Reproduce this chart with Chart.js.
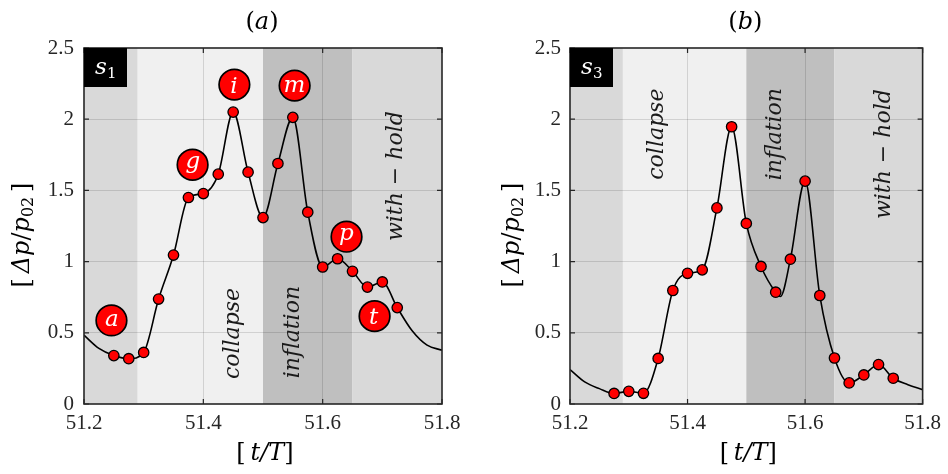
<!DOCTYPE html>
<html lang="en">
<head>
  <meta charset="UTF-8">
  <title>Pressure history s1 / s3</title>
  <script src="https://cdn.jsdelivr.net/npm/chart.js"></script>
  <style>
    body { margin: 0; background: #fff; }
    #wrap { position: relative; width: 948px; height: 474px; }
    canvas { position: absolute; top: 0; }
  </style>
</head>
<body>
  <div id="wrap">
    <canvas id="chartA" width="474" height="474" style="left:0"></canvas>
    <canvas id="chartB" width="474" height="474" style="left:474px"></canvas>
  </div>

  <script>
    // axes
    const xTicks = [51.2, 51.4, 51.6, 51.8];
    const xTickLabels = ['51.2', '51.4', '51.6', '51.8'];
    const yTicks = [0, 0.5, 1, 1.5, 2, 2.5];
    const yTickLabels = ['0', '0.5', '1', '1.5', '2', '2.5'];

    // phase bands (same in both panels)
    const phaseEdges = [51.2, 51.29, 51.5, 51.65, 51.8];
    const phaseNames = ['collapse', 'inflation', 'with \u2212 hold'];

    // (a) s1 : red markers, extra curve points at the ends, lettered tags
    const tMarkA = [51.25, 51.275, 51.3, 51.325, 51.35, 51.375, 51.4, 51.425, 51.45, 51.475,
                    51.5, 51.525, 51.55, 51.575, 51.6, 51.625, 51.65, 51.675, 51.7, 51.725];
    const pMarkA = [0.34, 0.318, 0.362, 0.737, 1.046, 1.45, 1.478, 1.614, 2.05, 1.628,
                    1.309, 1.689, 2.013, 1.347, 0.962, 1.02, 0.932, 0.821, 0.857, 0.677];
    const tEdgeA = [51.2, 51.225, 51.75, 51.775, 51.8];
    const pEdgeA = [0.483, 0.39, 0.514, 0.413, 0.378];
    const tagLetters = ['a', 'g', 'i', 'm', 'p', 't'];
    const tTagA = [51.246, 51.382, 51.452, 51.553, 51.64, 51.687];
    const pTagA = [0.587, 1.68, 2.243, 2.236, 1.175, 0.617];
    const tPhaseLabelA = [51.45, 51.551, 51.724];
    const pPhaseLabelA = [0.495, 0.505, 1.60];

    // (b) s3
    const tMarkB = [51.275, 51.3, 51.325, 51.35, 51.375, 51.4, 51.425, 51.45, 51.475, 51.5,
                    51.525, 51.55, 51.575, 51.6, 51.625, 51.65, 51.675, 51.7, 51.725, 51.75];
    const pMarkB = [0.074, 0.089, 0.075, 0.32, 0.797, 0.918, 0.942, 1.377, 1.947, 1.268,
                    0.966, 0.785, 1.017, 1.565, 0.762, 0.323, 0.148, 0.204, 0.277, 0.181];
    const tEdgeB = [51.2, 51.225, 51.25, 51.558, 51.775, 51.8];
    const pEdgeB = [0.242, 0.155, 0.108, 0.755, 0.136, 0.101];
    const tPhaseLabelB = [51.349, 51.55, 51.735];
    const pPhaseLabelB = [1.895, 1.895, 1.755];

    const bandColors = ['#d9d9d9', '#f0f0f0', '#bfbfbf', '#d9d9d9'];
    const axisColor = '#262626';
    const SERIF = '"DejaVu Serif", serif';
    const tickFont = { family: '"Liberation Serif", serif', size: 21 };

    const pts = (xs, ys) => xs.map((x, i) => ({ x: x, y: ys[i] }));

    // draw a row of text pieces centred on (x, baseline y), optionally rotated
    function drawRich(ctx, parts, x, y, rot) {
      ctx.save();
      ctx.translate(x, y);
      ctx.rotate(rot || 0);
      ctx.textAlign = 'left';
      ctx.textBaseline = 'alphabetic';
      let total = 0;
      parts.forEach(p => { ctx.font = p.font; p.w = ctx.measureText(p.text).width; total += p.w; });
      let cx = -total / 2;
      parts.forEach(p => {
        ctx.font = p.font;
        ctx.fillText(p.text, cx, p.dy || 0);
        cx += p.w;
      });
      ctx.restore();
    }

    function panelPlugin(cfg) {
      return {
        id: 'panelDecor',
        beforeDraw(chart) {
          const { ctx, chartArea: a, scales: { x } } = chart;
          ctx.save();
          for (let i = 0; i < phaseEdges.length - 1; i++) {
            const x0 = x.getPixelForValue(phaseEdges[i]);
            const x1 = x.getPixelForValue(phaseEdges[i + 1]);
            ctx.fillStyle = bandColors[i];
            ctx.fillRect(x0, a.top, x1 - x0, a.bottom - a.top);
          }
          ctx.restore();
        },
        beforeDatasetsDraw(chart) {
          const { ctx, scales: { x, y } } = chart;
          ctx.save();
          ctx.fillStyle = '#1a1a1a';
          ctx.font = 'italic 22px ' + SERIF;
          ctx.textAlign = 'center';
          ctx.textBaseline = 'middle';
          phaseNames.forEach((name, i) => {
            ctx.save();
            ctx.translate(x.getPixelForValue(cfg.tPhase[i]), y.getPixelForValue(cfg.pPhase[i]));
            ctx.rotate(-Math.PI / 2);
            ctx.fillText(name, 0, 0);
            ctx.restore();
          });
          ctx.restore();
        },
        afterDraw(chart) {
          const { ctx, chartArea: a, scales: { x, y } } = chart;
          ctx.save();

          // box + inward ticks
          ctx.strokeStyle = axisColor;
          ctx.lineWidth = 1.6;
          ctx.strokeRect(a.left, a.top, a.right - a.left, a.bottom - a.top);
          ctx.lineWidth = 1.2;
          ctx.beginPath();
          xTicks.forEach(v => {
            const px = x.getPixelForValue(v);
            ctx.moveTo(px, a.bottom); ctx.lineTo(px, a.bottom - 5);
            ctx.moveTo(px, a.top); ctx.lineTo(px, a.top + 5);
          });
          yTicks.forEach(v => {
            const py = y.getPixelForValue(v);
            ctx.moveTo(a.left, py); ctx.lineTo(a.left + 5, py);
            ctx.moveTo(a.right, py); ctx.lineTo(a.right - 5, py);
          });
          ctx.stroke();

          // sensor badge
          ctx.fillStyle = '#000';
          ctx.fillRect(a.left, a.top, 43, 39);
          ctx.fillStyle = '#fff';
          ctx.textAlign = 'left';
          ctx.textBaseline = 'alphabetic';
          ctx.font = 'italic 23px ' + SERIF;
          ctx.fillText('s', a.left + 11, a.top + 26);
          ctx.font = '15px ' + SERIF;
          ctx.fillText(cfg.sub, a.left + 23, a.top + 30);

          // tag letters inside the big circles
          ctx.font = 'italic 23px ' + SERIF;
          cfg.tags.forEach((letter, i) => {
            const cx = x.getPixelForValue(cfg.tTag[i]);
            const cy = y.getPixelForValue(cfg.pTag[i]);
            const m = ctx.measureText(letter);
            const w = m.actualBoundingBoxRight + m.actualBoundingBoxLeft;
            const h = m.actualBoundingBoxAscent + m.actualBoundingBoxDescent;
            ctx.fillText(letter, cx - w / 2 + m.actualBoundingBoxLeft,
                         cy - h / 2 + m.actualBoundingBoxAscent);
          });

          // titles
          ctx.fillStyle = '#000';
          const up = '24px ' + SERIF, it = 'italic 24px ' + SERIF;
          const midX = (a.left + a.right) / 2;
          drawRich(ctx, [{ text: '(', font: up }, { text: cfg.title, font: it }, { text: ')', font: up }],
                   midX - 1, 28.5);
          drawRich(ctx, [{ text: '[\u2009', font: up }, { text: 't/T', font: it }, { text: ']', font: up }],
                   midX + 2, 460);
          drawRich(ctx, [{ text: '[\u2009', font: up }, { text: '\u0394p', font: it }, { text: '/', font: up },
                         { text: 'p', font: it }, { text: '02', font: '16px ' + SERIF, dy: 4 },
                         { text: '\u2009]', font: up }],
                   cfg.yTitleX, 235, -Math.PI / 2);
          ctx.restore();
        }
      };
    }

    function makePanel(id, cfg) {
      const curve = pts(cfg.tMark.concat(cfg.tEdge), cfg.pMark.concat(cfg.pEdge)).sort((p, q) => p.x - q.x);
      const area = cfg.area;
      const gridColor = c => (c.index === 0 || c.index === c.scale.ticks.length - 1) ? 'rgba(0,0,0,0)' : 'rgba(0,0,0,0.13)';

      new Chart(document.getElementById(id), {
        type: 'line',
        data: {
          datasets: [
            { data: curve, borderColor: '#000', borderWidth: 1.6, pointRadius: 0,
              cubicInterpolationMode: 'monotone', order: 3 },
            { data: pts(cfg.tMark, cfg.pMark), showLine: false, pointRadius: 5.2,
              pointBackgroundColor: '#ff0000', pointBorderColor: '#000', pointBorderWidth: 1.3, order: 2 },
            { data: pts(cfg.tTag, cfg.pTag), showLine: false, pointRadius: 15.3,
              pointBackgroundColor: '#ff0000', pointBorderColor: '#000', pointBorderWidth: 1.7, order: 1 }
          ]
        },
        options: {
          responsive: false,
          animation: false,
          devicePixelRatio: 1,
          events: [],
          layout: { padding: { left: 0, right: 474 - area.right, top: area.top, bottom: 0 } },
          plugins: { legend: { display: false }, tooltip: { enabled: false } },
          scales: {
            x: {
              type: 'linear', min: 51.2, max: 51.8,
              afterBuildTicks: s => { s.ticks = xTicks.map(v => ({ value: v })); },
              afterFit: s => { s.height = 474 - area.bottom; },
              ticks: { callback: (v, i) => xTickLabels[i], font: tickFont, color: axisColor,
                       padding: 7, maxRotation: 0, autoSkip: false },
              grid: { color: gridColor, lineWidth: 1, drawTicks: false },
              border: { display: false }
            },
            y: {
              type: 'linear', min: 0, max: 2.5,
              afterBuildTicks: s => { s.ticks = yTicks.map(v => ({ value: v })); },
              afterFit: s => { s.width = area.left; },
              ticks: { callback: (v, i) => yTickLabels[i], font: tickFont, color: axisColor,
                       padding: cfg.yTickPad, autoSkip: false },
              grid: { color: gridColor, lineWidth: 1, drawTicks: false },
              border: { display: false }
            }
          }
        },
        plugins: [panelPlugin(cfg)]
      });
    }

    makePanel('chartA', {
      title: 'a', sub: '1',
      tMark: tMarkA, pMark: pMarkA, tEdge: tEdgeA, pEdge: pEdgeA,
      tags: tagLetters, tTag: tTagA, pTag: pTagA,
      tPhase: tPhaseLabelA, pPhase: pPhaseLabelA,
      area: { left: 84, right: 442, top: 48, bottom: 404 }, yTitleX: 28.5, yTickPad: 10
    });

    makePanel('chartB', {
      title: 'b', sub: '3',
      tMark: tMarkB, pMark: pMarkB, tEdge: tEdgeB, pEdge: pEdgeB,
      tags: [], tTag: [], pTag: [],
      tPhase: tPhaseLabelB, pPhase: pPhaseLabelB,
      area: { left: 96, right: 453, top: 48, bottom: 404 }, yTitleX: 45, yTickPad: 9
    });
  </script>
</body>
</html>
